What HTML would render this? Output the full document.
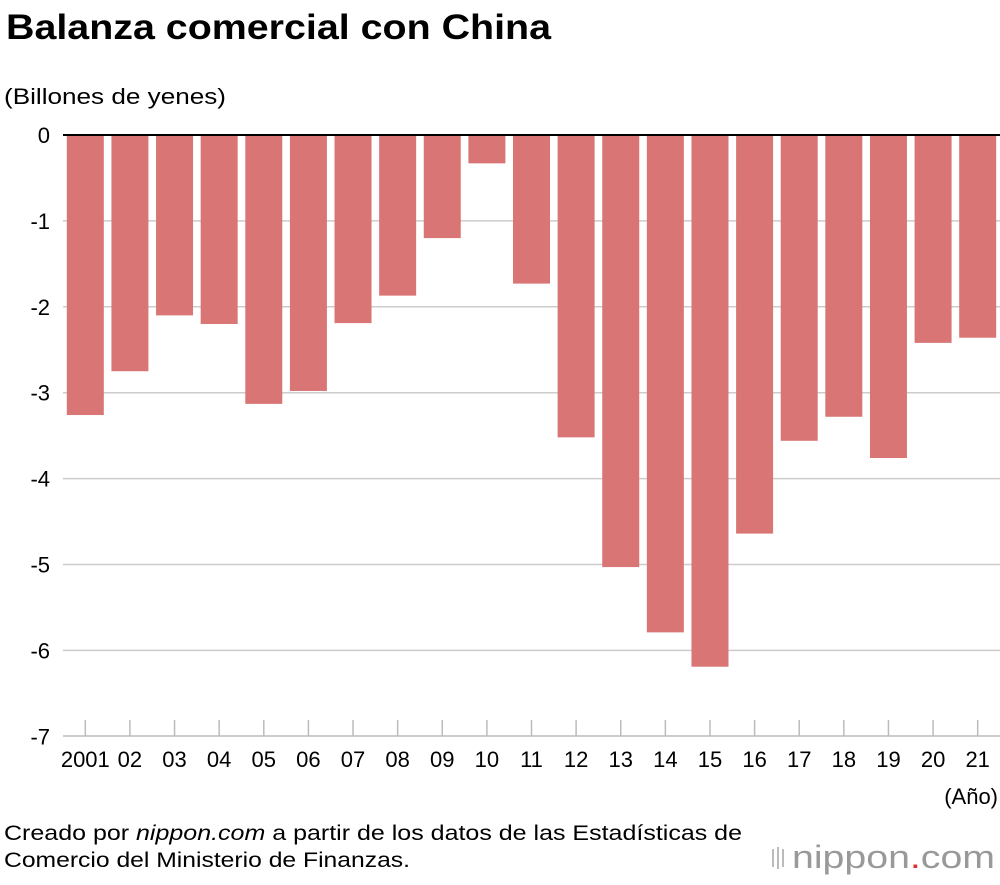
<!DOCTYPE html>
<html><head><meta charset="utf-8"><style>
body{margin:0;background:#fff;width:1000px;height:880px;overflow:hidden;font-family:"Liberation Sans",Arial,sans-serif;}
svg text{font-family:"Liberation Sans",Arial,sans-serif;}
</style></head><body>
<svg id="chart" width="1000" height="880">
<text x="6" y="39" font-size="35" font-weight="bold" fill="#000" textLength="545" lengthAdjust="spacingAndGlyphs">Balanza comercial con China</text>
<text x="4" y="104" font-size="22" fill="#000" textLength="222" lengthAdjust="spacingAndGlyphs">(Billones de yenes)</text>
<g id="grid"></g><g id="bars"></g><g id="xaxis"></g>
<text x="998" y="804" font-size="22" text-anchor="end">(Año)</text>
<text x="4" y="840" font-size="21" textLength="738" lengthAdjust="spacingAndGlyphs">Creado por <tspan font-style="italic">nippon.com</tspan> a partir de los datos de las Estadísticas de</text>
<text x="4" y="867" font-size="21" textLength="406" lengthAdjust="spacingAndGlyphs">Comercio del Ministerio de Finanzas.</text>
<g>
<rect x="772" y="849" width="2" height="18" fill="#bbb"/><rect x="777" y="847" width="2" height="22" fill="#bbb"/><rect x="782" y="849" width="2" height="18" fill="#bbb"/>
<text x="792" y="868" font-size="32" fill="#999" textLength="203" lengthAdjust="spacingAndGlyphs">nippon<tspan fill="#e03030">.</tspan>com</text></g>
</svg>
<script>
const categories=["2001","02","03","04","05","06","07","08","09","10","11","12","13","14","15","16","17","18","19","20","21"];
const values=[-3.26,-2.75,-2.10,-2.20,-3.13,-2.98,-2.19,-1.87,-1.20,-0.33,-1.73,-3.52,-5.03,-5.79,-6.19,-4.64,-3.56,-3.28,-3.76,-2.42,-2.36];
const yTicks=[0,-1,-2,-3,-4,-5,-6,-7];
const NS="http://www.w3.org/2000/svg";
const x0=63,x1=1000,y0=135,unit=85.9,slot=(x1-x0)/categories.length,bw=37;
const y=v=>y0-v*unit;
const xc=i=>x0+slot*(i+0.5);
function mk(t,a,p){const e=document.createElementNS(NS,t);for(const k in a)e.setAttribute(k,a[k]);p.appendChild(e);return e;}
const grid=document.getElementById('grid'),bars=document.getElementById('bars'),xa=document.getElementById('xaxis');
yTicks.forEach(t=>{
 if(t!==0&&t!==-7){const l=mk('line',{x1:x0,x2:x1,y1:y(t),y2:y(t),stroke:'#ccc','stroke-width':1.5},grid);
 
 }
 const tx=mk('text',{x:50,y:y(t)+8,'font-size':22,'text-anchor':'end'},grid);tx.textContent=t;
 
 
});
values.forEach((v,i)=>{
 const r=mk('rect',{x:xc(i)-bw/2,y:y(0),width:bw,height:y(v)-y(0),fill:'#d97575'},bars);
 
 
 const tk=mk('line',{x1:xc(i),x2:xc(i),y1:720,y2:736,stroke:'#bbb','stroke-width':1.5},xa);
 
 
 const lb=mk('text',{x:xc(i),y:767,'font-size':22,'text-anchor':'middle'},xa);lb.textContent=categories[i];
 
 
});
const z=mk('line',{x1:x0,x2:x1,y1:y0,y2:y0,stroke:'#000','stroke-width':2},xa);


const b=mk('line',{x1:x0,x2:x1,y1:736,y2:736,stroke:'#bbb','stroke-width':1.5},xa);


</script>
</body></html>
